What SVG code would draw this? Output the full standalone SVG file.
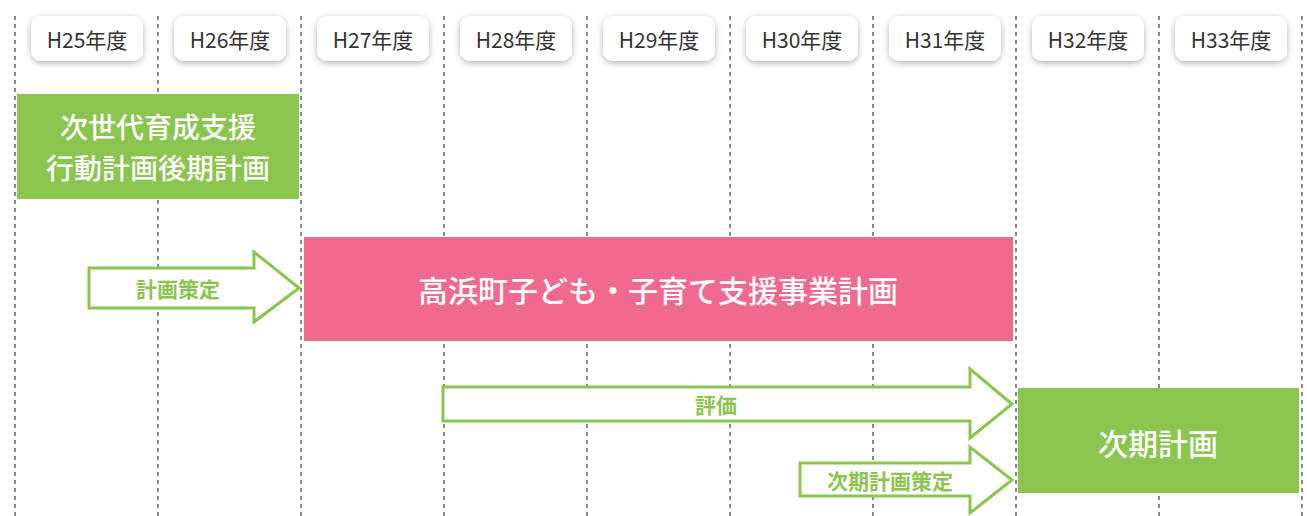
<svg xmlns="http://www.w3.org/2000/svg" width="1307" height="516" viewBox="0 0 1307 516">
<defs>
<filter id="sh" x="-20%" y="-30%" width="140%" height="170%">
<feDropShadow dx="0" dy="2" stdDeviation="3" flood-color="#000" flood-opacity="0.3"/>
</filter>
<style>
.grid{stroke:#666;stroke-width:1.5;stroke-dasharray:4 4;fill:none}
.yr rect{fill:#fff;filter:url(#sh)}
.yr text{font-family:"Noto Sans CJK JP","Noto Sans",sans-serif;font-size:21px;fill:#333;text-anchor:middle;dominant-baseline:central}
.gbox{fill:#8bc550}
.pbox{fill:#f06a8f}
.wt{font-family:"Noto Sans CJK JP",sans-serif;fill:#fff;text-anchor:middle;dominant-baseline:central;font-weight:500}
.arr{fill:#fff;stroke:#8bc550;stroke-width:3;stroke-linejoin:miter}
.gt{font-family:"Noto Sans CJK JP",sans-serif;fill:#8bc550;font-size:21px;font-weight:700;text-anchor:middle;dominant-baseline:central}
</style>
</defs>
<rect width="1307" height="516" fill="#fff"/>
<g id="grid">
<line class="grid" x1="15" y1="16" x2="15" y2="516"/>
<line class="grid" x1="158" y1="16" x2="158" y2="516"/>
<line class="grid" x1="301" y1="16" x2="301" y2="516"/>
<line class="grid" x1="444" y1="16" x2="444" y2="516"/>
<line class="grid" x1="587" y1="16" x2="587" y2="516"/>
<line class="grid" x1="730" y1="16" x2="730" y2="516"/>
<line class="grid" x1="873" y1="16" x2="873" y2="516"/>
<line class="grid" x1="1016" y1="16" x2="1016" y2="516"/>
<line class="grid" x1="1159" y1="16" x2="1159" y2="516"/>
<line class="grid" x1="1302" y1="16" x2="1302" y2="516"/>
</g>
<g id="years">
<g class="yr" id="y25"><rect x="31" y="16" width="112" height="45" rx="10"/><text x="87" y="39">H25年度</text></g>
<g class="yr" id="y26"><rect x="174" y="16" width="112" height="45" rx="10"/><text x="230" y="39">H26年度</text></g>
<g class="yr" id="y27"><rect x="317" y="16" width="112" height="45" rx="10"/><text x="373" y="39">H27年度</text></g>
<g class="yr" id="y28"><rect x="460" y="16" width="112" height="45" rx="10"/><text x="516" y="39">H28年度</text></g>
<g class="yr" id="y29"><rect x="603" y="16" width="112" height="45" rx="10"/><text x="659" y="39">H29年度</text></g>
<g class="yr" id="y30"><rect x="746" y="16" width="112" height="45" rx="10"/><text x="802" y="39">H30年度</text></g>
<g class="yr" id="y31"><rect x="889" y="16" width="112" height="45" rx="10"/><text x="945" y="39">H31年度</text></g>
<g class="yr" id="y32"><rect x="1032" y="16" width="112" height="45" rx="10"/><text x="1088" y="39">H32年度</text></g>
<g class="yr" id="y33"><rect x="1175" y="16" width="112" height="45" rx="10"/><text x="1231" y="39">H33年度</text></g>
</g>
<g id="plan-prev">
<rect class="gbox" x="17" y="94" width="282" height="105"/>
<text class="wt" font-size="28"><tspan x="158" y="126">次世代育成支援</tspan><tspan x="158" y="167">行動計画後期計画</tspan></text>
</g>
<g id="plan-main">
<rect class="pbox" x="304" y="237" width="709" height="104"/>
<text class="wt" x="658" y="289" font-size="30">高浜町子ども・子育て支援事業計画</text>
</g>
<g id="plan-next">
<rect class="gbox" x="1018" y="388" width="281" height="105"/>
<text class="wt" x="1158" y="442" font-size="30">次期計画</text>
</g>
<g id="connectors">
<g id="arrow-sakutei">
<polygon class="arr" points="89,268 254,268 254,252 299,288 254,322 254,308 89,308"/>
<text class="gt" x="178" y="288">計画策定</text>
</g>
<g id="arrow-hyoka">
<polygon class="arr" points="443,387 970,387 970,369 1012,404 970,438 970,421 443,421"/>
<text class="gt" x="716" y="404">評価</text>
</g>
<g id="arrow-jiki">
<polygon class="arr" points="800,463 970,463 970,447 1012,480 970,513 970,496 800,496"/>
<text class="gt" x="890" y="480">次期計画策定</text>
</g>
</g>
</svg>
